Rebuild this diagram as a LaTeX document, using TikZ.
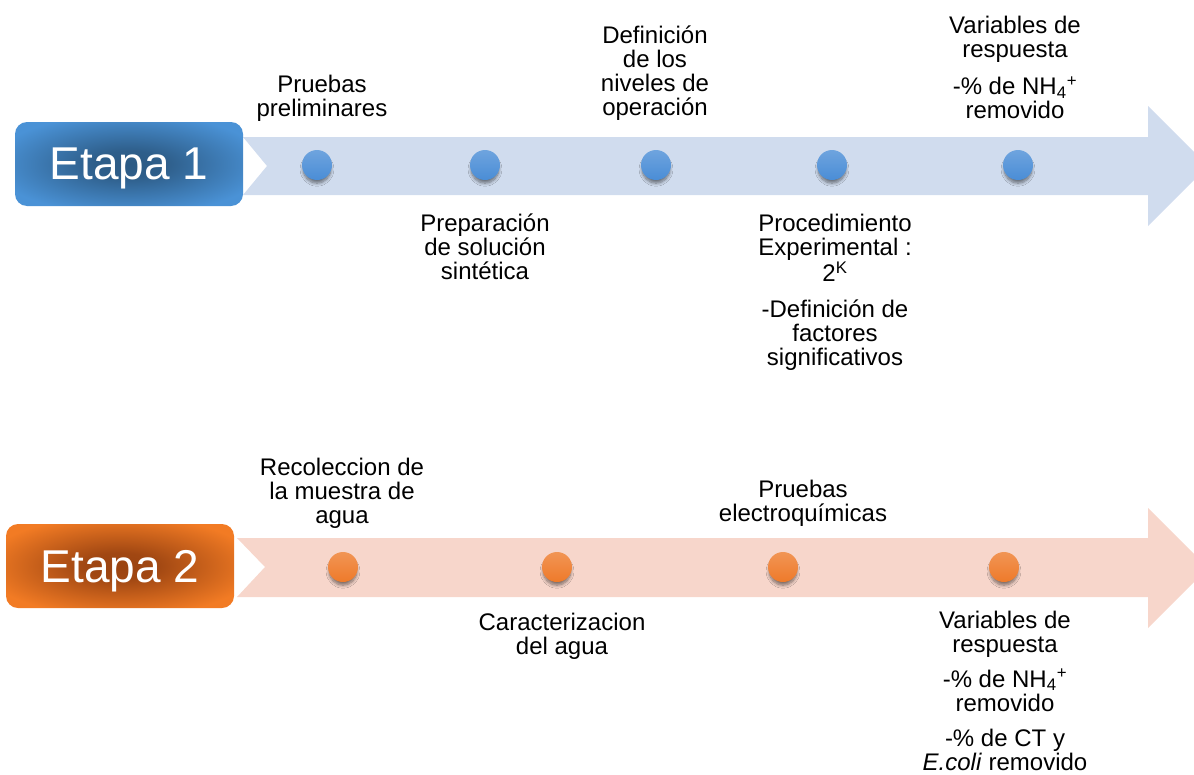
\documentclass[tikz,border=0pt]{standalone}
\usepackage{fontspec}
\setmainfont{Liberation Sans}
\usetikzlibrary{positioning,shadows.blur}

\definecolor{bandblue}{HTML}{D0DCEE}
\definecolor{bandorange}{HTML}{F7D6CB}
\definecolor{boxblue}{HTML}{4A92D6}
\definecolor{boxbluedark}{HTML}{2C5A84}
\definecolor{boxorange}{HTML}{F27B24}
\definecolor{boxorangedark}{HTML}{9A4311}
\definecolor{dotblue}{HTML}{4A8DD6}
\definecolor{dotorange}{HTML}{EE7A2A}

\pgfdeclareradialshading{glowblue}{\pgfpoint{0bp}{0bp}}{color(0bp)=(boxbluedark);
  color(8bp)=(boxbluedark!92!boxblue); color(30bp)=(boxblue); color(50bp)=(boxblue)}
\pgfdeclareradialshading{gloworange}{\pgfpoint{0bp}{0bp}}{color(0bp)=(boxorangedark);
  color(8bp)=(boxorangedark!92!boxorange); color(30bp)=(boxorange); color(50bp)=(boxorange)}

\begin{document}
\begin{tikzpicture}[x=0.75pt, y=-0.75pt,
  lbl/.style={font=\fontsize{18}{18}\selectfont, align=center, anchor=north, inner sep=0pt},
  stagebox/.style={rounded corners=9pt, minimum width=171pt, minimum height=63pt,
    text=white, font=\fontsize{34.5}{36}\selectfont, text depth=0pt},
  dotshadow/.style={blur shadow={shadow xshift=0pt, shadow yshift=-3.5pt, shadow scale=0.92,
    shadow blur radius=2.5pt, shadow opacity=50, shadow blur steps=8}},
  dotb/.style={circle, minimum size=22.5pt, inner sep=0pt, top color=dotblue!80!white,
    bottom color=dotblue, dotshadow},
  doto/.style={circle, minimum size=22.5pt, inner sep=0pt, top color=dotorange!80!white,
    bottom color=dotorange, dotshadow}
]
\useasboundingbox (0,0) rectangle (1194,774);
\clip (0,0) rectangle (1194,774);

% Etapa 1: band arrow, box and dots
\fill[bandblue] (243,137) -- (1148,137) -- (1148,106) -- (1208,166) -- (1148,226)
  -- (1148,195) -- (243,195) -- (267,166) -- cycle;
\node[stagebox, shading=glowblue] (E1) at (129,164) {Etapa 1};

\node[dotb] (B1) at (317,165) {};
\node[dotb] (B2) at (485,165) {};
\node[dotb] (B3) at (656,165) {};
\node[dotb] (B4) at (832,165) {};
\node[dotb] (B5) at (1018,165) {};

\node[lbl] (T1) at (322,75) {Pruebas\\preliminares};
\node[lbl] (T2) at (485,214) {Preparación\\de solución\\sintética};
\node[lbl] (T3) at (655,26) {Definición\\de los\\niveles de\\operación};
\node[lbl] (T4) at (835,214) {Procedimiento\\Experimental :\\2\textsuperscript{K}\\[9pt]
  -Definición de\\factores\\significativos};
\node[lbl] (T5) at (1015,16) {Variables de\\respuesta\\[10pt]
  -\% de NH\textsubscript{4}\textsuperscript{+}\\removido};

% Etapa 2: band arrow, box and dots
\fill[bandorange] (237,538) -- (1148,538) -- (1148,508) -- (1208,568) -- (1148,628)
  -- (1148,597) -- (237,597) -- (265,567) -- cycle;
\node[stagebox, shading=gloworange] (E2) at (120,566) {Etapa 2};

\node[doto] (O1) at (343,567) {};
\node[doto] (O2) at (557,567) {};
\node[doto] (O3) at (783,567) {};
\node[doto] (O4) at (1004,567) {};

\node[lbl] (S1) at (342,458) {Recoleccion de\\la muestra de\\agua};
\node[lbl] (S2) at (562,613) {Caracterizacion\\del agua};
\node[lbl] (S3) at (803,480) {Pruebas\\electroquímicas};
\node[lbl] (S4) at (1005,611) {Variables de\\respuesta\\[8pt]
  -\% de NH\textsubscript{4}\textsuperscript{+}\\removido\\[8pt]
  -\% de CT y\\\textit{E.coli} removido};

\end{tikzpicture}
\end{document}
